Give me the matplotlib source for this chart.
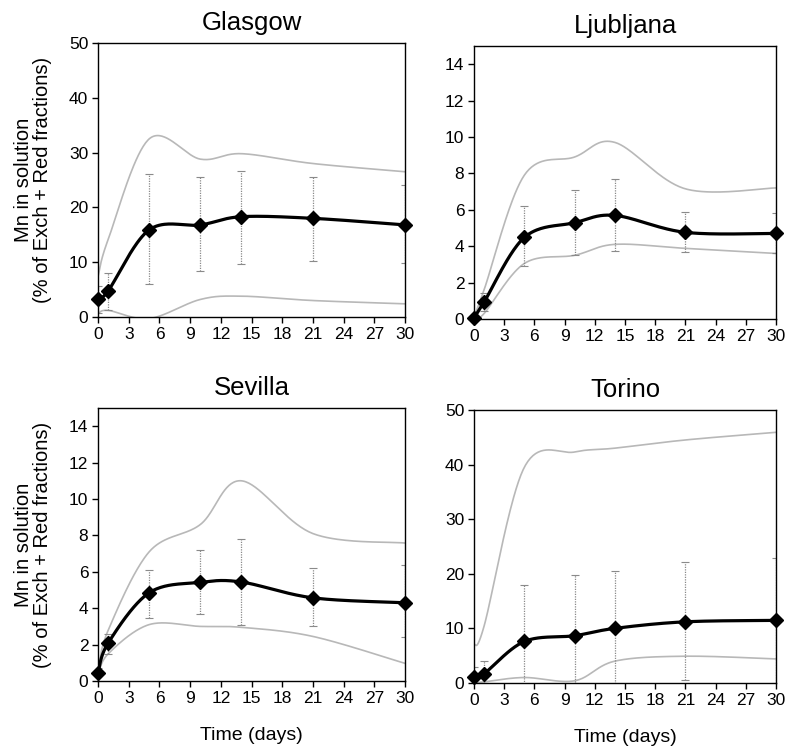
import numpy as np
import matplotlib
matplotlib.use('Agg')
import matplotlib.pyplot as plt

plt.rcParams['font.family'] = ['Liberation Sans', 'DejaVu Sans']

# sampling times (days)
days = [0, 1, 5, 10, 14, 21, 30]

# mean Mn in solution and the error bar ends
glasgow_mean = [3.3, 4.8, 15.9, 16.8, 18.3, 18.0, 16.8]
glasgow_lo = [0.8, 1.3, 6.0, 8.3, 9.7, 10.3, 9.9]
glasgow_hi = [5.6, 8.1, 26.0, 25.6, 26.6, 25.6, 24.0]
glasgow_max = [7.4, 14.2, 32.5, 28.8, 29.8, 28.0, 26.5]
glasgow_min = [0.6, 1.2, -0.3, 3.2, 3.8, 3.0, 2.4]

ljubljana_mean = [0.05, 0.93, 4.48, 5.29, 5.69, 4.76, 4.70]
ljubljana_lo = [0.0, 0.45, 2.9, 3.5, 3.75, 3.66, 3.6]
ljubljana_hi = [0.1, 1.45, 6.2, 7.1, 7.7, 5.9, 5.8]
ljubljana_max = [0.1, 1.6, 7.9, 8.9, 9.7, 7.15, 7.2]
ljubljana_min = [0.0, 0.3, 3.05, 3.5, 4.1, 3.88, 3.6]

sevilla_mean = [0.46, 2.1, 4.85, 5.42, 5.44, 4.57, 4.3]
sevilla_lo = [0.3, 1.47, 3.47, 3.69, 3.07, 3.0, 2.4]
sevilla_hi = [0.7, 2.6, 6.1, 7.18, 7.8, 6.2, 6.37]
sevilla_max = [0.6, 2.8, 7.1, 8.6, 11.0, 8.1, 7.58]
sevilla_min = [0.3, 1.5, 3.1, 3.0, 2.95, 2.45, 0.97]

torino_mean = [1.1, 1.7, 7.6, 8.66, 10.0, 11.2, 11.46]
torino_lo = [0.0, 0.0, -2.0, -2.5, -0.5, 0.6, 0.0]
torino_hi = [3.0, 4.1, 18.0, 19.8, 20.5, 22.1, 22.9]
torino_max = [7.0, 10.4, 39.5, 42.3, 43.0, 44.5, 45.9]
torino_min = [0.0, 0.2, 1.0, 0.4, 4.0, 4.9, 4.4]

sites = ['Glasgow', 'Ljubljana', 'Sevilla', 'Torino']
means = [glasgow_mean, ljubljana_mean, sevilla_mean, torino_mean]
lows = [glasgow_lo, ljubljana_lo, sevilla_lo, torino_lo]
highs = [glasgow_hi, ljubljana_hi, sevilla_hi, torino_hi]
maxs = [glasgow_max, ljubljana_max, sevilla_max, torino_max]
mins = [glasgow_min, ljubljana_min, sevilla_min, torino_min]
ylims = [50, 15, 15, 50]


def smooth(x, y, n=40):
    """Excel-like smoothed line: Catmull-Rom bezier through the points"""
    p = np.column_stack([x, y]).astype(float)
    ext = np.vstack([p[0], p, p[-1]])
    t = np.linspace(0, 1, n)[:, None]
    out = []
    for i in range(len(p) - 1):
        p0, p3 = ext[i + 1], ext[i + 2]
        c1 = p0 + (ext[i + 2] - ext[i]) / 6.0
        c2 = p3 - (ext[i + 3] - ext[i + 1]) / 6.0
        seg = ((1 - t) ** 3) * p0 + 3 * ((1 - t) ** 2) * t * c1 + 3 * (1 - t) * t ** 2 * c2 + t ** 3 * p3
        out.append(seg)
    out = np.vstack(out)
    return out[:, 0], out[:, 1]


fig = plt.figure(figsize=(7.9, 7.46), dpi=100)
positions = [[0.1241, 0.5751, 0.3886, 0.3673],
             [0.6000, 0.5724, 0.3823, 0.3660],
             [0.1241, 0.0871, 0.3886, 0.3660],
             [0.6000, 0.0845, 0.3823, 0.3660]]

for k in range(4):
    ax = fig.add_axes(positions[k])
    x = np.array(days)
    m = np.array(means[k])

    # envelope of the replicates
    sx, sy = smooth(x, maxs[k])
    ax.plot(sx, sy, color='#b8b8b8', lw=1.2)
    sx, sy = smooth(x, mins[k])
    ax.plot(sx, sy, color='#b8b8b8', lw=1.2)

    # error bars
    yerr = [m - np.array(lows[k]), np.array(highs[k]) - m]
    eb = ax.errorbar(x, m, yerr=yerr, fmt='none', ecolor='#8a8a8a',
                     elinewidth=0.9, capsize=3, capthick=0.8)
    for lc in eb[2]:
        lc.set_linestyle((0, (1, 1)))

    # mean
    sx, sy = smooth(x, m)
    ax.plot(sx, sy, color='black', lw=2.3, zorder=4)
    ax.plot(x, m, linestyle='none', marker='D', markersize=7.5,
            color='black', zorder=5, clip_on=False)

    ax.set_xlim(0, 30)
    ax.set_ylim(0, ylims[k])
    ax.set_xticks(np.arange(0, 31, 3))
    if ylims[k] == 15:
        ax.set_yticks(np.arange(0, 15, 2))
    else:
        ax.set_yticks(np.arange(0, 51, 10))
    ax.tick_params(direction='out', length=4, width=1, labelsize=12.5, pad=3)
    for s in ax.spines.values():
        s.set_linewidth(1)
        s.set_color('black')
    ax.set_title(sites[k], fontsize=18.5, pad=9)
    if k in (0, 2):
        ax.set_ylabel('Mn in solution\n(% of Exch + Red fractions)', fontsize=14.5,
                      linespacing=1.05, labelpad=12)
    if k in (2, 3):
        ax.set_xlabel('Time (days)', fontsize=14, labelpad=15)

plt.savefig('out.png', dpi=100)
